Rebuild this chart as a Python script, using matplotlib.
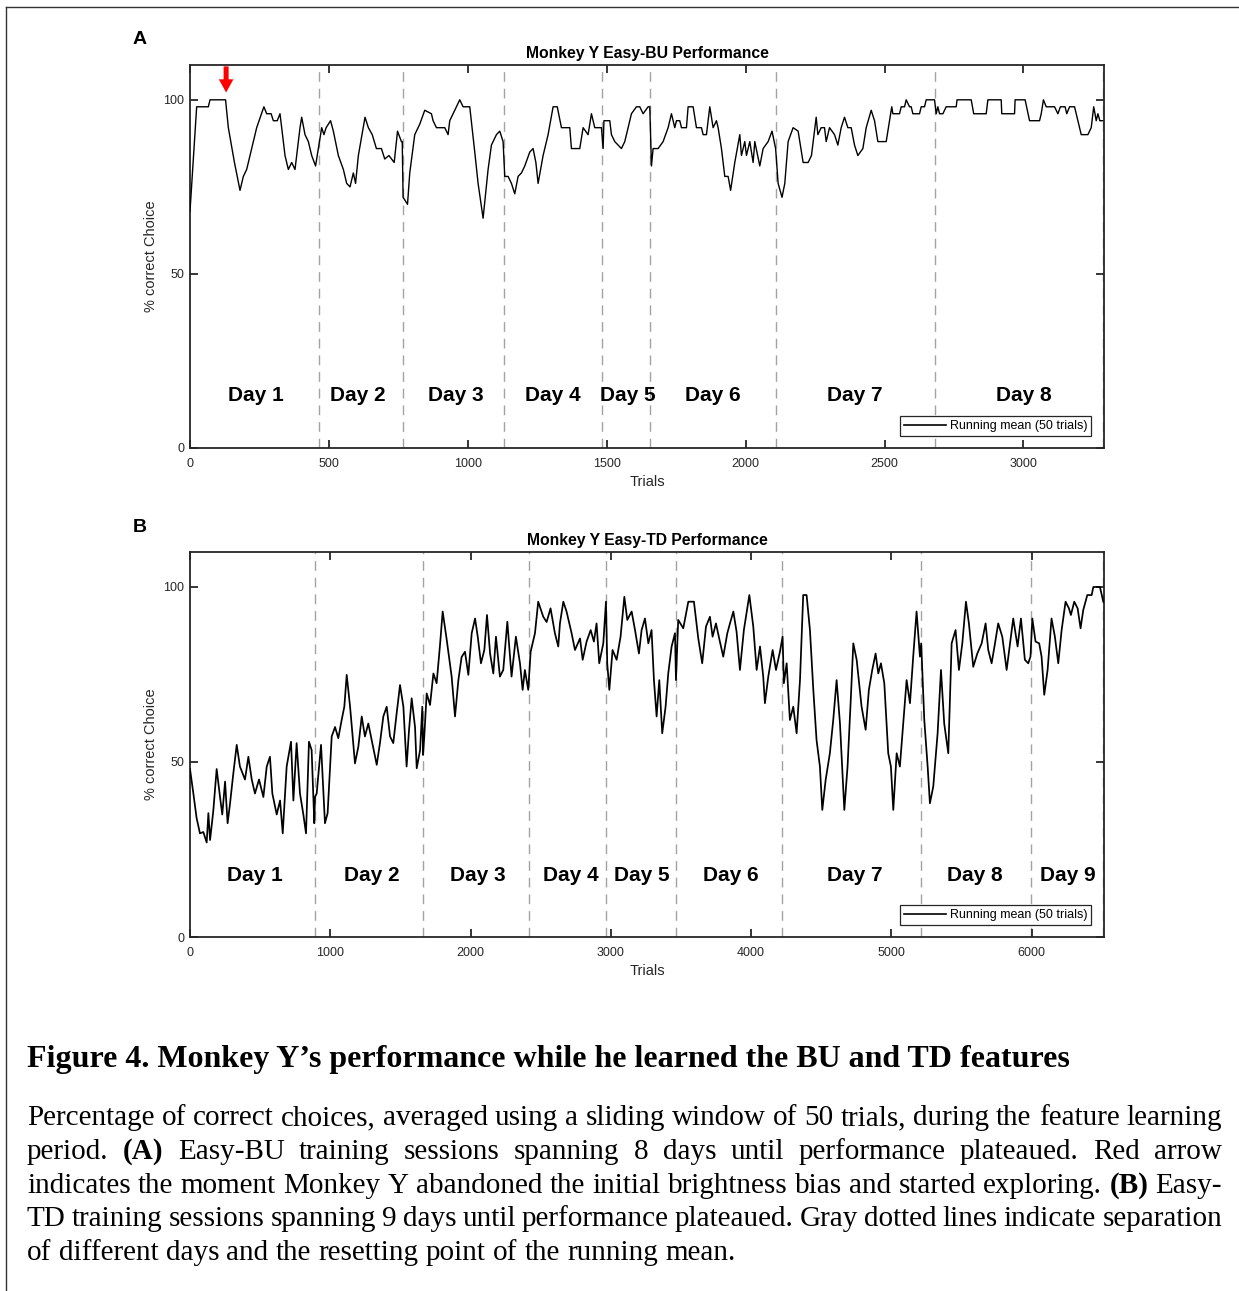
import matplotlib
matplotlib.use("Agg")
import matplotlib.pyplot as plt
from matplotlib.lines import Line2D

W, H = 1239, 1291
plt.rcParams['font.family'] = ['Liberation Sans', 'DejaVu Sans']

# ---- Panel A: Easy-BU running mean (trial, % correct) ----
a_trials = [0, 24, 66, 72, 128, 138, 160, 180, 192, 204, 216, 240, 266, 276, 292, 300, 314, 324,
            342, 354, 366, 378, 396, 402, 414, 426, 438, 452, 462, 474, 482, 490, 506, 516, 534,
            552, 564, 576, 588, 596, 606, 630, 642, 656, 671, 689, 701, 716, 735, 747, 761, 764,
            767, 783, 791, 809, 827, 845, 869, 875, 887, 917, 929, 935, 947, 959, 971, 983, 1007,
            1025, 1037, 1055, 1073, 1085, 1103, 1115, 1127, 1133, 1145, 1157, 1169, 1181, 1193,
            1205, 1223, 1235, 1245, 1253, 1271, 1289, 1307, 1322, 1337, 1367, 1373, 1403, 1415,
            1433, 1445, 1457, 1481, 1487, 1490, 1511, 1517, 1529, 1553, 1565, 1577, 1589, 1607,
            1619, 1631, 1649, 1655, 1661, 1667, 1685, 1703, 1721, 1733, 1745, 1751, 1763, 1769,
            1787, 1793, 1811, 1823, 1841, 1847, 1859, 1871, 1883, 1895, 1901, 1913, 1919, 1925,
            1937, 1946, 1961, 1979, 1985, 1997, 2003, 2015, 2027, 2033, 2051, 2063, 2081, 2095,
            2108, 2117, 2131, 2141, 2153, 2171, 2189, 2207, 2225, 2237, 2254, 2260, 2272, 2284,
            2290, 2302, 2320, 2332, 2344, 2356, 2368, 2380, 2392, 2404, 2422, 2434, 2452, 2464,
            2476, 2506, 2522, 2526, 2530, 2554, 2560, 2572, 2578, 2590, 2596, 2602, 2626, 2632,
            2644, 2650, 2680, 2686, 2692, 2698, 2710, 2722, 2758, 2761, 2812, 2821, 2866, 2872,
            2920, 2922, 2968, 2970, 3006, 3022, 3058, 3064, 3072, 3082, 3112, 3124, 3133, 3150,
            3156, 3166, 3184, 3202, 3208, 3232, 3244, 3253, 3262, 3268, 3275, 3285]
a_values = [68, 98, 98, 100, 100, 92, 82, 74, 78, 80, 84, 92, 98, 96, 96, 94, 94, 96,
            84, 80, 82, 80, 92, 95, 90, 88, 84, 81, 86, 92, 90, 92, 94, 91, 84,
            80, 76, 75, 79, 76, 84, 95, 92, 90, 86, 86, 83, 84, 82, 91, 88, 88,
            72, 70, 79, 90, 93, 97, 96, 94, 92, 92, 90, 94, 96, 98, 100, 98, 98,
            85, 76, 66, 80, 87, 90, 91, 88, 78, 78, 76, 73, 78, 79,
            81, 85, 86, 82, 76, 84, 90, 98, 98, 92, 92, 86, 86, 92,
            90, 96, 92, 92, 86, 94, 94, 90, 88, 86, 88, 92, 96, 98,
            98, 96, 98, 98, 81, 86, 86, 88, 92, 96, 92, 94, 94, 92,
            92, 98, 98, 92, 92, 90, 90, 98, 92, 94, 92, 86, 82, 78,
            78, 74, 82, 90, 84, 88, 84, 88, 82, 88, 81, 86, 88, 91,
            86, 76, 72, 76, 88, 92, 91, 82, 82, 84, 95, 90, 92, 92,
            88, 92, 90, 87, 92, 95, 92, 92, 87, 84, 86, 92, 97, 94,
            88, 88, 96, 98, 96, 96, 98, 98, 100, 98, 98, 96, 96, 98,
            98, 100, 100, 96, 98, 96, 96, 98, 98, 100, 100, 96, 96, 100,
            100, 96, 96, 100, 100, 94, 94, 96, 100, 98, 98, 96, 98, 98,
            96, 98, 98, 92, 90, 90, 92, 98, 94, 96, 94, 94]
a_day_bounds = [464, 766, 1129, 1482, 1655, 2108, 2680, 3285]
a_label_x = [237, 604, 957, 1306, 1576, 1881, 2392, 3000]

# ---- Panel B: Easy-TD running mean ----
b_trials = [0, 24, 47, 71, 95, 119, 131, 143, 166, 190, 214, 230, 250, 268, 285, 309, 333, 356,
            392, 416, 440, 463, 492, 523, 547, 570, 587, 618, 642, 661, 689, 720, 737, 760, 784,
            808, 827, 848, 867, 886, 891, 903, 934, 962, 981, 1010, 1034, 1057, 1081, 1100, 1117,
            1141, 1176, 1200, 1224, 1247, 1271, 1295, 1331, 1354, 1378, 1402, 1426, 1449, 1473,
            1497, 1521, 1544, 1561, 1580, 1604, 1616, 1640, 1656, 1661, 1670, 1687, 1711, 1735,
            1758, 1782, 1801, 1830, 1865, 1889, 1913, 1936, 1960, 1984, 2008, 2032, 2051, 2074,
            2098, 2117, 2139, 2162, 2181, 2209, 2233, 2262, 2292, 2323, 2352, 2371, 2387, 2411,
            2428, 2459, 2482, 2518, 2542, 2570, 2601, 2625, 2637, 2661, 2684, 2720, 2744, 2780,
            2799, 2827, 2856, 2879, 2898, 2917, 2946, 2965, 2974, 2989, 3012, 3041, 3069, 3096,
            3117, 3148, 3172, 3200, 3219, 3243, 3267, 3290, 3307, 3326, 3345, 3366, 3390, 3409,
            3433, 3457, 3464, 3480, 3516, 3552, 3592, 3623, 3651, 3678, 3706, 3725, 3749, 3777,
            3801, 3830, 3849, 3873, 3896, 3920, 3948, 3987, 4015, 4039, 4063, 4086, 4098, 4122,
            4153, 4177, 4205, 4224, 4233, 4253, 4276, 4300, 4324, 4348, 4371, 4395, 4419, 4443,
            4466, 4490, 4507, 4531, 4561, 4585, 4609, 4633, 4664, 4687, 4711, 4728, 4752, 4787,
            4816, 4839, 4863, 4887, 4906, 4925, 4949, 4977, 4996, 5013, 5037, 5060, 5084, 5108,
            5132, 5155, 5179, 5203, 5212, 5234, 5258, 5274, 5298, 5329, 5353, 5376, 5405, 5429,
            5457, 5481, 5505, 5531, 5552, 5583, 5612, 5643, 5671, 5690, 5714, 5738, 5761, 5790,
            5821, 5845, 5868, 5899, 5923, 5951, 5975, 5991, 6004, 6027, 6053, 6070, 6089, 6113,
            6141, 6165, 6189, 6213, 6241, 6265, 6279, 6303, 6327, 6348, 6367, 6396, 6427, 6439,
            6486, 6510]
b_values = [48, 41, 34, 29.6, 30, 27, 35.4, 27.7, 36, 48, 40, 35, 44.4, 32.5, 38, 46.8, 54.9, 48.7,
            45, 51.5, 45, 41, 45, 40, 48.7, 51.5, 41, 35, 39, 29.6, 48.7, 55.8, 39, 55.4, 41,
            35, 29.6, 55.8, 53.4, 32.5, 40, 41, 54.9, 32.5, 35.4, 57.3, 60, 56.8, 62, 65.8, 74.9,
            65.8, 49.6, 54.4, 63, 57.3, 61, 56.3, 49.2, 55.4, 63, 65.8, 57.3, 55.4, 63.9,
            72, 65.8, 48.7, 59, 68.2, 60, 48.2, 53.4, 65.8, 52, 57.3, 69.6, 66.3, 75.3,
            72.5, 83.4, 93, 84.9, 74.4, 63, 73.4, 80, 81.5, 74.9, 86.8, 91, 85.8, 78.2,
            82, 92, 81, 75.3, 85.8, 74.4, 76.3, 90.1, 74.4, 85.8, 78.2, 70.6, 76.3, 70.6,
            81.5, 86.8, 95.8, 91.5, 90, 93.9, 86.8, 83, 89.6, 95.8, 93, 86.8, 82, 85.3,
            79.2, 84.4, 87.7, 84.4, 89.6, 78.2, 83.9, 95.8, 78.2, 70.6, 82, 79.2, 85.8, 97.2,
            90.6, 93, 87.7, 81, 87.7, 91, 83.9, 87.7, 73.4, 63, 73.4, 58.2, 65.8, 75.3,
            83, 86.8, 73.4, 90.6, 88.2, 95.8, 95.8, 85.3, 78.2, 88.7, 91.5, 85.8, 89.6, 84.4,
            80.1, 86.8, 89.6, 93, 87.2, 76.3, 87.7, 97.7, 88.7, 76.3, 83, 74.4, 66.8, 74.4,
            82, 76.3, 81.5, 85.8, 72.5, 78.2, 62, 65.8, 58.2, 73.4, 97.7, 97.7, 87.7, 70.6,
            56.3, 48.7, 36.3, 44.9, 52.5, 62, 73.4, 61, 36.3, 48.7, 68.7, 83.9, 79.2, 65.8,
            59.2, 70.6, 76.3, 81, 75.3, 78.2, 72.5, 52.5, 48.7, 36.3, 52.5, 48.7, 61, 73.4,
            66.8, 80.1, 93, 80.1, 83.9, 62, 48.7, 38.2, 43, 58.2, 76.3, 61, 52.5, 83.9,
            87.7, 76.3, 83.9, 95.8, 89.6, 77.2, 81, 83.9, 89.6, 82, 78.2, 83.9, 89.6, 85.8,
            76.3, 83.9, 91, 83, 91, 79.2, 78.2, 80.1, 91, 84.4, 83.9, 80.1, 69.2, 76.3,
            91, 85.8, 78.2, 87.7, 95.8, 93.9, 92, 95.8, 93.9, 88.2, 93.4, 97.7, 97.7, 100,
            100, 95.8]
b_day_bounds = [891, 1661, 2416, 2965, 3464, 4219, 5210, 5994, 6507]
b_label_x = [463, 1297, 2053, 2716, 3222, 3856, 4740, 5595, 6258]

fig = plt.figure(figsize=(W / 100, H / 100), dpi=100)


def draw_panel(rect, trials, values, bounds, label_x, label_y, xmax, xticks, title, lw):
    ax = fig.add_axes(rect)
    # gray dashed lines: day separations / running-mean resets
    for b in bounds:
        ax.axvline(b, color='#a3a3a3', lw=1.0, ls=(0, (7, 5)), zorder=1)
    ax.plot(trials, values, color='black', lw=lw, label='Running mean (50 trials)', zorder=3)
    for i, x in enumerate(label_x):
        ax.text(x, label_y, f'Day {i + 1}', ha='center', va='center',
                fontsize=15, fontweight='bold', color='black')
    ax.set_xlim(0, xmax)
    ax.set_ylim(0, 110)
    ax.set_yticks([0, 50, 100])
    ax.set_xticks(xticks)
    for s in ax.spines.values():
        s.set_linewidth(1.3)
        s.set_color('#262626')
    ax.tick_params(direction='in', length=6, width=1.3, top=True, right=True,
                   labelsize=9, colors='#262626', pad=4)
    ax.tick_params(axis='x', pad=7)
    ax.set_title(title, fontsize=11.3, fontweight='bold', pad=5)
    ax.set_xlabel('Trials', fontsize=10.5, color='#262626', labelpad=4)
    ax.set_ylabel('% correct Choice', fontsize=10.5, color='#262626', labelpad=4)
    leg = ax.legend(loc='lower right', bbox_to_anchor=(0.986, 0.032), fontsize=9,
                    frameon=True, fancybox=False, edgecolor='#262626', framealpha=1,
                    handlelength=3.4, borderpad=0.3, handletextpad=0.3, borderaxespad=0)
    for h in leg.get_lines():
        h.set_linewidth(1.2)
    leg.get_frame().set_linewidth(0.9)
    return ax


ax_a = draw_panel([190 / W, 1 - 448 / H, 914 / W, 383 / H], a_trials, a_values, a_day_bounds,
                  a_label_x, 15.2, 3290, [0, 500, 1000, 1500, 2000, 2500, 3000],
                  'Monkey Y Easy-BU Performance', 1.0)
ax_b = draw_panel([190 / W, 1 - 937 / H, 914 / W, 385 / H], b_trials, b_values, b_day_bounds,
                  b_label_x, 17.6, 6515, [0, 1000, 2000, 3000, 4000, 5000, 6000],
                  'Monkey Y Easy-TD Performance', 1.25)

# red arrow marking the end of the brightness bias
ax_a.annotate('', xy=(130, 102.1), xytext=(130, 109.6),
              arrowprops=dict(facecolor='red', edgecolor='none', width=3.6,
                              headwidth=10.5, headlength=9.5, shrink=0))

fig.text(140 / W, 1 - 40 / H, 'A', fontsize=14, fontweight='bold', ha='center', va='center')
fig.text(140 / W, 1 - 528 / H, 'B', fontsize=14, fontweight='bold', ha='center', va='center')

# frame around the figure
fig.add_artist(Line2D([6 / W, 1], [1 - 7 / H, 1 - 7 / H], color='#333333', lw=1.0,
                      transform=fig.transFigure))
fig.add_artist(Line2D([6 / W, 6 / W], [0, 1 - 7 / H], color='#333333', lw=1.0,
                      transform=fig.transFigure))

# ---- caption ----
serif = ['Liberation Serif', 'DejaVu Serif']
fig.text(27 / W, 1 - 1060 / H,
         'Figure 4. Monkey Y\u2019s performance while he learned the BU and TD features',
         fontsize=23, fontweight='bold', family=serif, ha='left', va='center')

caption_lines = [
    'Percentage of correct choices, averaged using a sliding window of 50 trials, during the feature learning',
    'period. (A) Easy-BU training sessions spanning 8 days until performance plateaued. Red arrow',
    'indicates the moment Monkey Y abandoned the initial brightness bias and started exploring. (B) Easy-',
    'TD training sessions spanning 9 days until performance plateaued. Gray dotted lines indicate separation',
    'of different days and the resetting point of the running mean.',
]
caption_y = [1118, 1152, 1186, 1219, 1253]
bold_words = ['(A)', '(B)']
left_px, right_px = 27, 1222
body_size = 21

# justified paragraph: measure each word, spread the spare width over the gaps
renderer = fig.canvas.get_renderer()
for n, (line, y) in enumerate(zip(caption_lines, caption_y)):
    words = line.split(' ')
    objs = [fig.text(0, 1 - (y + 7) / H, w, fontsize=body_size, family=serif,
                     fontweight='bold' if w in bold_words else 'normal',
                     ha='left', va='baseline') for w in words]
    widths = [t.get_window_extent(renderer).width for t in objs]
    if n < len(caption_lines) - 1:
        gap = (right_px - left_px - sum(widths)) / (len(words) - 1)
    else:
        gap = body_size * 0.25 * 100 / 72
    x = left_px
    for t, w in zip(objs, widths):
        t.set_x(x / W)
        x += w + gap

fig.savefig('out.png', dpi=100)
